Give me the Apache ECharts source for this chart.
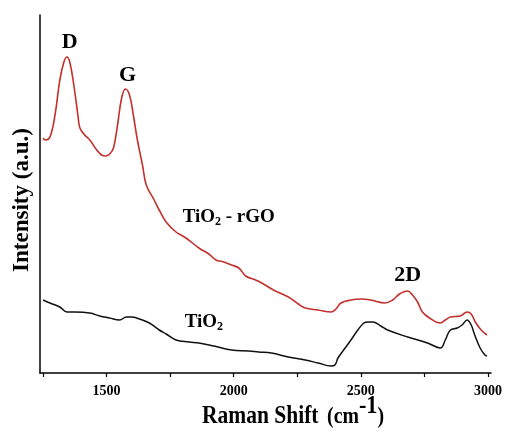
<!DOCTYPE html>
<html>
<head>
<meta charset="utf-8">
<script src="https://cdn.jsdelivr.net/npm/echarts@6/dist/echarts.min.js"></script>
<style>html,body{margin:0;padding:0;background:#fff}#c{width:505px;height:432px}</style>
</head>
<body>
<div id="c"></div>
<script>
// Raman shift (cm^-1) and intensity (a.u.)
const rgoShift = [1250,1258,1277,1297,1316,1332,1344,1355,1371,1387,1395,1414,1434,1461,1480,1496,1512,1527,1543,1559,1574,1590,1605,1621,1641,1656,1687,1707,1734,1773,1812,1863,1902,1930,1961,1992,2020,2047,2086,2117,2156,2215,2254,2281,2332,2383,2402,2422,2461,2500,2539,2594,2625,2652,2684,2703,2723,2742,2770,2813,2832,2852,2891,2918,2934,2950,2973,2996];
const rgoIntensity = [235,233,236,258,293,311,316,311,288,258,245,238,233,223,218,217,219,225,248,275,284,278,258,233,208,188,173,163,151,141,135,125,119,113,111,108,105,97,93,89,83,76,69,65,63,61,64,70,73,74,73,70,73,79,82,78,71,61,55,50,53,56,57,61,59,51,43,38];
const tioShift = [1250,1277,1316,1344,1375,1434,1473,1512,1551,1578,1598,1629,1668,1707,1734,1773,1824,1863,1922,1992,2059,2098,2148,2215,2281,2332,2383,2398,2410,2438,2461,2488,2512,2527,2547,2578,2605,2684,2762,2813,2832,2852,2879,2898,2918,2934,2945,2969,2988,2996];
const tioIntensity = [73,70,66,61,61,60,57,55,53,56,56,54,50,43,39,33,31,30,27,23,22,21,20,16,13,10,7,8,15,25,33,43,50,51,51,47,43,36,30,25,33,43,45,48,53,48,40,25,18,17];
const tickValues = [1250,1500,1750,2000,2250,2500,2750,3000];
const labelValues = [1500,2000,2500,3000];

const zip = (a,b) => a.map((v,i)=>[v,b[i]]);
const serif = '"Liberation Serif","Times New Roman",serif';
const ann = (x,y,text,pos,size,rich) => ({
  coord:[x,y], symbol:'circle', symbolSize:1, itemStyle:{color:'rgba(0,0,0,0)'},
  label:{show:true, position:pos, distance:0, formatter:text, fontFamily:serif, fontWeight:'bold', fontSize:size, color:'#000', rich:rich||{}}
});
const subRich = {
  b:{fontFamily:serif,fontWeight:'bold',fontSize:19,color:'#000'},
  s:{fontFamily:serif,fontWeight:'bold',fontSize:12,color:'#000',verticalAlign:'bottom',padding:[9,0,0,0]}
};

const chart = echarts.init(document.getElementById('c'));
chart.setOption({
  animation:false,
  backgroundColor:'#fff',
  grid:{left:40, right:11, top:15, bottom:59},
  xAxis:{
    type:'value', min:1238, max:3012,
    axisLine:{show:true, lineStyle:{color:'#000', width:1.5}},
    axisTick:{show:true, customValues:tickValues, length:4, inside:false, lineStyle:{color:'#000', width:1.2}},
    axisLabel:{customValues:labelValues, margin:11, color:'#000', fontFamily:serif, fontWeight:'bold', fontSize:14,
               formatter:v => String(v)},
    splitLine:{show:false}
  },
  yAxis:{
    type:'value', min:0, max:358,
    axisLine:{show:true, lineStyle:{color:'#000', width:1.5}},
    axisTick:{show:false}, axisLabel:{show:false}, splitLine:{show:false}
  },
  series:[
    {type:'line', data:zip(rgoShift,rgoIntensity), showSymbol:false, smooth:0.4,
     lineStyle:{color:'#c4302b', width:1.6}, itemStyle:{color:'#c4302b'},
     markPoint:{data:[
       ann(1355,331,'D','inside',22),
       ann(1582,298,'G','inside',22),
       ann(1797,156,'{b|TiO}{s|2}{b| - rGO}','right',19,subRich),
       ann(2684,98,'2D','inside',22)
     ]}},
    {type:'line', data:zip(tioShift,tioIntensity), showSymbol:false, smooth:0.4,
     lineStyle:{color:'#111', width:1.5}, itemStyle:{color:'#111'},
     markPoint:{data:[
       ann(1805,51,'{b|TiO}{s|2}','right',19,subRich)
     ]}}
  ],
  graphic:[
    {type:'text', x:22, y:200, rotation:Math.PI/2,
     style:{text:'Intensity (a.u.)', font:'bold 23px '+serif, fill:'#000', textAlign:'center', textVerticalAlign:'middle'}},
    {type:'text', x:202, y:429, scaleX:0.86,
     style:{text:'{a|Raman Shift}{b|(cm}{c|-1}{b|)}', fill:'#000', textVerticalAlign:'bottom',
       rich:{a:{font:'bold 25px '+serif, fill:'#000', verticalAlign:'bottom', padding:[0,10,0,0]},
             b:{font:'bold 23px '+serif, fill:'#000', verticalAlign:'bottom'},
             c:{font:'bold 26px '+serif, fill:'#000', verticalAlign:'top', padding:[0,0,10,0]}}}}
  ]
});
</script>
</body>
</html>
